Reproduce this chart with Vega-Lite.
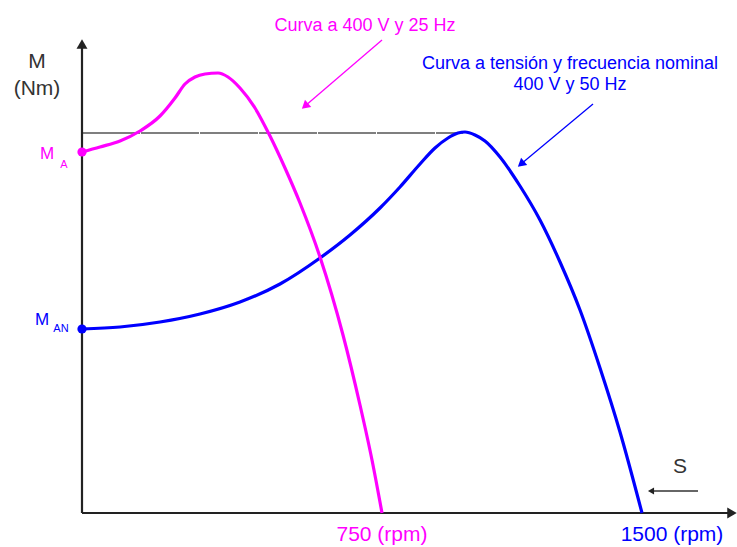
{
  "$schema": "https://vega.github.io/schema/vega-lite/v6.json",
  "width": 737,
  "height": 547,
  "autosize": {"type": "fit", "contains": "padding"},
  "padding": 0,
  "background": "white",
  "config": {"view": {"stroke": null}, "text": {"font": "Liberation Sans"}},
  "datasets": {
    "curves": [
      {"series": "50 Hz", "x": 0, "y": 184},
      {"series": "50 Hz", "x": 38, "y": 186},
      {"series": "50 Hz", "x": 78, "y": 191},
      {"series": "50 Hz", "x": 118, "y": 199},
      {"series": "50 Hz", "x": 158, "y": 211},
      {"series": "50 Hz", "x": 198, "y": 229},
      {"series": "50 Hz", "x": 238, "y": 255},
      {"series": "50 Hz", "x": 268, "y": 278},
      {"series": "50 Hz", "x": 298, "y": 305},
      {"series": "50 Hz", "x": 318, "y": 326},
      {"series": "50 Hz", "x": 338, "y": 349},
      {"series": "50 Hz", "x": 353, "y": 365},
      {"series": "50 Hz", "x": 366, "y": 375},
      {"series": "50 Hz", "x": 376, "y": 380},
      {"series": "50 Hz", "x": 383, "y": 381},
      {"series": "50 Hz", "x": 393, "y": 378},
      {"series": "50 Hz", "x": 403, "y": 372},
      {"series": "50 Hz", "x": 418, "y": 356},
      {"series": "50 Hz", "x": 438, "y": 327},
      {"series": "50 Hz", "x": 458, "y": 293},
      {"series": "50 Hz", "x": 478, "y": 251},
      {"series": "50 Hz", "x": 498, "y": 203},
      {"series": "50 Hz", "x": 518, "y": 145},
      {"series": "50 Hz", "x": 538, "y": 81},
      {"series": "50 Hz", "x": 560, "y": 0},
      {"series": "25 Hz", "x": 0, "y": 361},
      {"series": "25 Hz", "x": 18, "y": 366},
      {"series": "25 Hz", "x": 38, "y": 372},
      {"series": "25 Hz", "x": 58, "y": 382},
      {"series": "25 Hz", "x": 78, "y": 397},
      {"series": "25 Hz", "x": 93, "y": 415},
      {"series": "25 Hz", "x": 103, "y": 429},
      {"series": "25 Hz", "x": 113, "y": 436},
      {"series": "25 Hz", "x": 123, "y": 439},
      {"series": "25 Hz", "x": 136, "y": 440},
      {"series": "25 Hz", "x": 146, "y": 436},
      {"series": "25 Hz", "x": 158, "y": 425},
      {"series": "25 Hz", "x": 173, "y": 405},
      {"series": "25 Hz", "x": 188, "y": 377},
      {"series": "25 Hz", "x": 203, "y": 345},
      {"series": "25 Hz", "x": 218, "y": 310},
      {"series": "25 Hz", "x": 238, "y": 256},
      {"series": "25 Hz", "x": 261, "y": 178},
      {"series": "25 Hz", "x": 278, "y": 108},
      {"series": "25 Hz", "x": 290, "y": 53},
      {"series": "25 Hz", "x": 300, "y": 0}
    ],
    "starts": [
      {"series": "25 Hz", "x": 0, "y": 361},
      {"series": "50 Hz", "x": 0, "y": 184}
    ],
    "guide": [{"x": 0, "y": 380, "x2": 381, "y2": 380}],
    "axes": [
      {"axis": "M", "x": 0, "y": 0, "x2": 0, "y2": 468},
      {"axis": "S", "x": 0, "y": 0, "x2": 651, "y2": 0}
    ],
    "axisHeads": [
      {"axis": "M", "x": 0, "y": 469},
      {"axis": "S", "x": 650, "y": 0}
    ],
    "pointers": [
      {"series": "25 Hz", "x": 300, "y": 473, "x2": 223, "y2": 407},
      {"series": "50 Hz", "x": 511, "y": 409, "x2": 439, "y2": 349},
      {"series": "axis", "x": 616, "y": 22, "x2": 571, "y2": 22}
    ],
    "pointerHeads": [
      {"series": "25 Hz", "x": 223, "y": 407},
      {"series": "50 Hz", "x": 439, "y": 349},
      {"series": "axis", "x": 569, "y": 22}
    ],
    "labels": [
      {"kind": "big", "series": "axis", "label": "M", "x": -45, "y": 451},
      {"kind": "big", "series": "axis", "label": "(Nm)", "x": -45, "y": 424},
      {"kind": "big", "series": "axis", "label": "S", "x": 598, "y": 46},
      {"kind": "big", "series": "25 Hz", "label": "750 (rpm)", "x": 300, "y": -22},
      {"kind": "big", "series": "50 Hz", "label": "1500 (rpm)", "x": 590, "y": -22},
      {"kind": "note", "series": "25 Hz", "label": "Curva a 400 V y 25 Hz", "x": 283, "y": 487},
      {"kind": "note", "series": "50 Hz", "label": "Curva a tensión y frecuencia nominal", "x": 488, "y": 449},
      {"kind": "note", "series": "50 Hz", "label": "400 V y 50 Hz", "x": 488, "y": 428},
      {"kind": "sym", "series": "25 Hz", "label": "M", "x": -35, "y": 359},
      {"kind": "sub", "series": "25 Hz", "label": "A", "x": -18, "y": 348},
      {"kind": "sym", "series": "50 Hz", "label": "M", "x": -40, "y": 193},
      {"kind": "sub", "series": "50 Hz", "label": "AN", "x": -21, "y": 184}
    ]
  },
  "encoding": {
    "x": {"field": "x", "type": "quantitative", "scale": {"domain": [-82, 655], "nice": false, "zero": false}, "axis": null},
    "y": {"field": "y", "type": "quantitative", "scale": {"domain": [-34, 513], "nice": false, "zero": false}, "axis": null}
  },
  "layer": [
    {
      "data": {"name": "guide"},
      "mark": {"type": "rule", "color": "#555555", "strokeWidth": 1.5, "strokeDash": [58, 1]},
      "encoding": {"x2": {"field": "x2"}, "y2": {"field": "y2"}}
    },
    {
      "data": {"name": "axes"},
      "mark": {"type": "rule", "color": "#222222", "strokeWidth": 2.2},
      "encoding": {"x2": {"field": "x2"}, "y2": {"field": "y2"}}
    },
    {
      "data": {"name": "axisHeads"},
      "transform": [{"filter": "datum.axis === 'M'"}],
      "mark": {"type": "point", "shape": "triangle-up", "filled": true, "opacity": 1, "color": "#222222", "size": 120, "angle": 0},
      "encoding": {}
    },
    {
      "data": {"name": "axisHeads"},
      "transform": [{"filter": "datum.axis === 'S'"}],
      "mark": {"type": "point", "shape": "triangle-up", "filled": true, "opacity": 1, "color": "#222222", "size": 120, "angle": 90},
      "encoding": {}
    },
    {
      "data": {"name": "curves"},
      "mark": {"type": "line", "interpolate": "monotone", "strokeWidth": 3.2},
      "encoding": {
        "color": {"field": "series", "type": "nominal", "scale": {"domain": ["25 Hz", "50 Hz", "axis"], "range": ["#ff00ff", "#0000ff", "#333333"]}, "legend": null},
        "order": {"field": "x", "type": "quantitative"}
      }
    },
    {
      "data": {"name": "starts"},
      "mark": {"type": "point", "shape": "circle", "filled": true, "opacity": 1, "size": 85},
      "encoding": {
        "color": {"field": "series", "type": "nominal", "scale": {"domain": ["25 Hz", "50 Hz", "axis"], "range": ["#ff00ff", "#0000ff", "#333333"]}, "legend": null}
      }
    },
    {
      "data": {"name": "pointers"},
      "mark": {"type": "rule", "strokeWidth": 1.3},
      "encoding": {
        "x2": {"field": "x2"}, "y2": {"field": "y2"},
        "color": {"field": "series", "type": "nominal", "scale": {"domain": ["25 Hz", "50 Hz", "axis"], "range": ["#ff00ff", "#0000ff", "#333333"]}, "legend": null}
      }
    },
    {
      "data": {"name": "pointerHeads"},
      "transform": [{"filter": "datum.series === '25 Hz'"}],
      "mark": {"type": "point", "shape": "triangle-up", "filled": true, "opacity": 1, "size": 90, "angle": 229, "color": "#ff00ff"},
      "encoding": {}
    },
    {
      "data": {"name": "pointerHeads"},
      "transform": [{"filter": "datum.series === '50 Hz'"}],
      "mark": {"type": "point", "shape": "triangle-up", "filled": true, "opacity": 1, "size": 90, "angle": 230, "color": "#0000ff"},
      "encoding": {}
    },
    {
      "data": {"name": "pointerHeads"},
      "transform": [{"filter": "datum.series === 'axis'"}],
      "mark": {"type": "point", "shape": "triangle-up", "filled": true, "opacity": 1, "size": 50, "angle": 270, "color": "#222222"},
      "encoding": {}
    },
    {
      "data": {"name": "labels"},
      "transform": [{"filter": "datum.kind === 'big'"}],
      "mark": {"type": "text", "fontSize": 21, "align": "center", "baseline": "middle"},
      "encoding": {
        "text": {"field": "label"},
        "color": {"field": "series", "type": "nominal", "scale": {"domain": ["25 Hz", "50 Hz", "axis"], "range": ["#ff00ff", "#0000ff", "#333333"]}, "legend": null}
      }
    },
    {
      "data": {"name": "labels"},
      "transform": [{"filter": "datum.kind === 'note'"}],
      "mark": {"type": "text", "fontSize": 18, "align": "center", "baseline": "middle"},
      "encoding": {
        "text": {"field": "label"},
        "color": {"field": "series", "type": "nominal", "scale": {"domain": ["25 Hz", "50 Hz", "axis"], "range": ["#ff00ff", "#0000ff", "#333333"]}, "legend": null}
      }
    },
    {
      "data": {"name": "labels"},
      "transform": [{"filter": "datum.kind === 'sym'"}],
      "mark": {"type": "text", "fontSize": 17, "align": "center", "baseline": "middle"},
      "encoding": {
        "text": {"field": "label"},
        "color": {"field": "series", "type": "nominal", "scale": {"domain": ["25 Hz", "50 Hz", "axis"], "range": ["#ff00ff", "#0000ff", "#333333"]}, "legend": null}
      }
    },
    {
      "data": {"name": "labels"},
      "transform": [{"filter": "datum.kind === 'sub'"}],
      "mark": {"type": "text", "fontSize": 11, "align": "center", "baseline": "middle"},
      "encoding": {
        "text": {"field": "label"},
        "color": {"field": "series", "type": "nominal", "scale": {"domain": ["25 Hz", "50 Hz", "axis"], "range": ["#ff00ff", "#0000ff", "#333333"]}, "legend": null}
      }
    }
  ]
}
